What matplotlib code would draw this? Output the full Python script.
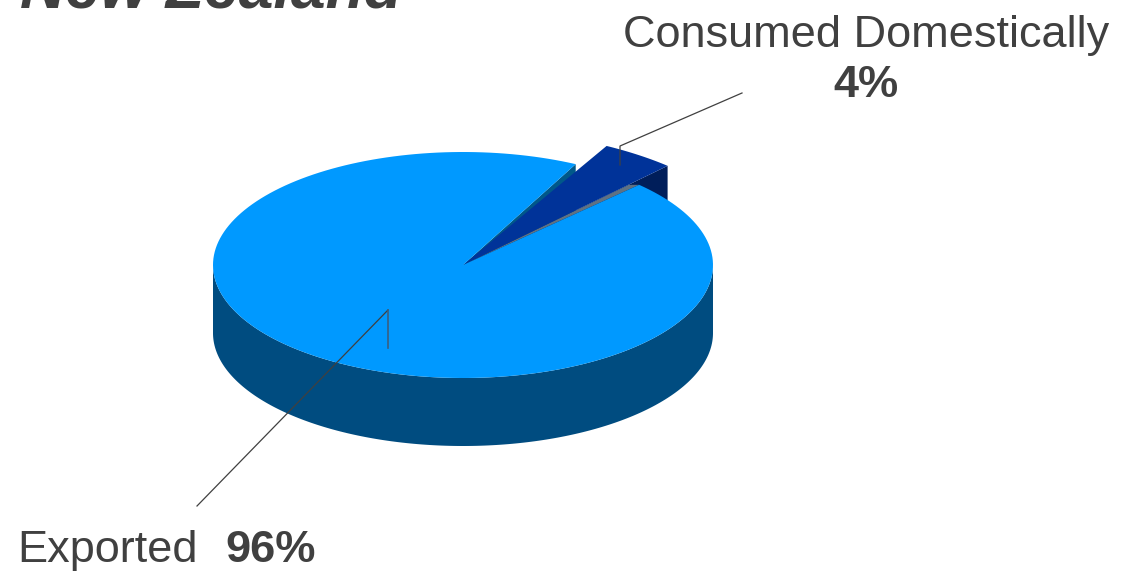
import numpy as np
import matplotlib
matplotlib.use("Agg")
import matplotlib.pyplot as plt
from matplotlib.patches import Polygon

# ---- data ----
title = "New Zealand"
categories = ["Exported", "Consumed Domestically"]
values = [96, 4]
label_pcts = ["96%", "4%"]

# ---- geometry (pixel space) ----
W, H = 1141, 571
cx, cy = 463, 265
a, b = 250, 113
depth = 68
slice_scale = 1.2
gap = 1.8
start_small = 47.0

fig = plt.figure(figsize=(W / 100, H / 100), dpi=100)
ax = fig.add_axes([0, 0, 1, 1])
ax.set_xlim(0, W)
ax.set_ylim(H, 0)
ax.axis("off")

def pt(t, r=1.0, dz=0.0):
    t = np.radians(t)
    return (cx + r * a * np.cos(t), cy - r * b * np.sin(t) + dz)

def arc(t0, t1, r=1.0, dz=0.0, n=200):
    ts = np.linspace(t0, t1, n)
    return [pt(t, r, dz) for t in ts]

total = sum(values)
span_small = 360.0 * values[1] / total
t_small0 = start_small
t_small1 = start_small + span_small
t_main0 = t_small1 + gap
t_main1 = start_small - gap + 360.0

C = (cx, cy)
Cd = (cx, cy + depth)

col_top = "#0099FF"
col_side = "#004C80"
col_face = "#005889"
col_small_top = "#003399"
col_small_face = "#001E5A"
col_grey = "#5F7183"

# main front side wall
top_front = arc(180, 360)
bot_front = arc(180, 360, dz=depth)[::-1]
ax.add_patch(Polygon(top_front + bot_front, closed=True, fc=col_side, ec="none"))

# main cut face at left edge of gap
E = pt(t_main0)
ax.add_patch(Polygon([C, E, (E[0], E[1] + depth), Cd], closed=True, fc=col_face, ec="none"))

# small slice cut face
S = pt(t_small0, slice_scale)
ax.add_patch(Polygon([C, S, (S[0], S[1] + depth), Cd], closed=True, fc=col_small_face, ec="none"))

# grey sliver (main cut face at right edge of gap)
ax.add_patch(Polygon([C, pt(t_main1 - 360.0), pt(t_small0, 0.97)], closed=True, fc=col_grey, ec="none"))

# small slice top
ax.add_patch(Polygon([C] + arc(t_small0, t_small1, slice_scale), closed=True, fc=col_small_top, ec="none"))

# main top
ax.add_patch(Polygon([C] + arc(t_main0, t_main1), closed=True, fc=col_top, ec="none"))

# ---- leader lines ----
lc = "#404040"
ax.plot([742, 620, 620], [93, 146, 165], color=lc, lw=0.9)
ax.plot([197, 388], [506, 310], color=lc, lw=0.9)
ax.plot([388, 388], [310, 348], color="#3A5F80", lw=1.2)

# ---- text ----
fam = ["Liberation Sans", "DejaVu Sans"]
tc = "#404040"
ax.text(20, 8, title, fontsize=45, fontweight="bold", fontstyle="italic",
        color=tc, family=fam, ha="left", va="baseline")
ax.text(866, 47, categories[1], fontsize=32.5, color=tc, family=fam,
        ha="center", va="baseline")
ax.text(866, 97, label_pcts[1], fontsize=32.5, fontweight="bold", color=tc,
        family=fam, ha="center", va="baseline")
ax.text(17, 562, categories[0], fontsize=32.5, color=tc, family=fam,
        ha="left", va="baseline")
ax.text(225, 562, label_pcts[0], fontsize=32.5, fontweight="bold", color=tc,
        family=fam, ha="left", va="baseline")

fig.savefig("out.png", dpi=100)
